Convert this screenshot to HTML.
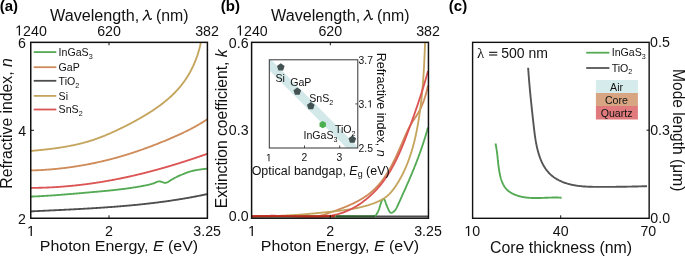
<!DOCTYPE html>
<html><head><meta charset="utf-8"><style>
html,body{margin:0;padding:0;background:#fff;}
body{width:685px;height:256px;overflow:hidden;}
svg{display:block;will-change:transform;}
</style></head><body>
<svg xmlns="http://www.w3.org/2000/svg" width="685" height="256" viewBox="0 0 685 256" style="font-family:'Liberation Sans',sans-serif"><rect width="685" height="256" fill="#fff"/><defs><clipPath id="ca"><rect x="30.75" y="42.35" width="176.65" height="175.9"/></clipPath><clipPath id="cb"><rect x="251.6" y="42.35" width="176.85" height="175.85"/></clipPath><clipPath id="cbi"><rect x="269.3" y="59.8" width="88.5" height="88.2"/></clipPath></defs><g font-weight="bold" font-size="15" fill="#000"><text x="-0.3" y="11">(a)</text><text x="220.8" y="11">(b)</text><text x="448.8" y="11">(c)</text></g><g clip-path="url(#ca)"><path d="M31.02,211.36 L31.61,211.33 L32.20,211.30 L32.79,211.27 L33.38,211.24 L33.97,211.21 L34.56,211.19 L35.15,211.16 L35.74,211.13 L36.33,211.10 L36.92,211.07 L37.52,211.05 L38.11,211.02 L38.70,210.99 L39.29,210.96 L39.88,210.94 L40.47,210.91 L41.06,210.88 L41.65,210.85 L42.24,210.83 L42.83,210.80 L43.42,210.77 L44.01,210.74 L44.61,210.71 L45.20,210.69 L45.79,210.66 L46.38,210.63 L46.97,210.60 L47.56,210.58 L48.15,210.55 L48.74,210.52 L49.33,210.49 L49.92,210.47 L50.52,210.44 L51.11,210.41 L51.70,210.38 L52.29,210.35 L52.88,210.33 L53.47,210.30 L54.06,210.27 L54.65,210.24 L55.25,210.22 L55.84,210.19 L56.43,210.16 L57.02,210.13 L57.61,210.10 L58.20,210.07 L58.79,210.05 L59.38,210.02 L59.98,209.99 L60.57,209.96 L61.16,209.93 L61.75,209.90 L62.34,209.88 L62.93,209.85 L63.52,209.82 L64.12,209.79 L64.71,209.76 L65.30,209.73 L65.89,209.70 L66.48,209.67 L67.07,209.64 L67.66,209.61 L68.26,209.58 L68.85,209.55 L69.44,209.52 L70.03,209.49 L70.62,209.46 L71.21,209.43 L71.80,209.40 L72.40,209.37 L72.99,209.34 L73.58,209.31 L74.17,209.28 L74.76,209.25 L75.35,209.22 L75.95,209.19 L76.54,209.16 L77.13,209.13 L77.72,209.09 L78.31,209.06 L78.90,209.03 L79.49,209.00 L80.09,208.97 L80.68,208.93 L81.27,208.90 L81.86,208.87 L82.45,208.84 L83.04,208.80 L83.63,208.77 L84.23,208.74 L84.82,208.70 L85.41,208.67 L86.00,208.64 L86.59,208.60 L87.18,208.57 L87.77,208.53 L88.36,208.50 L88.96,208.47 L89.55,208.43 L90.14,208.40 L90.73,208.36 L91.32,208.33 L91.91,208.29 L92.50,208.25 L93.09,208.22 L93.69,208.18 L94.28,208.14 L94.87,208.11 L95.46,208.07 L96.05,208.03 L96.64,208.00 L97.23,207.96 L97.82,207.92 L98.41,207.88 L99.01,207.85 L99.60,207.81 L100.19,207.77 L100.78,207.73 L101.37,207.69 L101.96,207.65 L102.55,207.61 L103.14,207.57 L103.73,207.53 L104.32,207.49 L104.92,207.45 L105.51,207.41 L106.10,207.37 L106.69,207.33 L107.28,207.28 L107.87,207.24 L108.46,207.20 L109.05,207.16 L109.64,207.11 L110.23,207.07 L110.82,207.03 L111.41,206.98 L112.00,206.94 L112.59,206.89 L113.18,206.85 L113.77,206.81 L114.36,206.76 L114.96,206.71 L115.55,206.67 L116.14,206.62 L116.73,206.58 L117.32,206.53 L117.91,206.48 L118.50,206.44 L119.09,206.39 L119.68,206.34 L120.27,206.29 L120.86,206.24 L121.45,206.19 L122.04,206.14 L122.63,206.09 L123.22,206.04 L123.81,205.99 L124.40,205.94 L124.99,205.89 L125.58,205.84 L126.17,205.79 L126.76,205.74 L127.35,205.68 L127.93,205.63 L128.52,205.58 L129.11,205.53 L129.70,205.47 L130.29,205.42 L130.88,205.36 L131.47,205.31 L132.06,205.25 L132.65,205.20 L133.24,205.14 L133.83,205.08 L134.42,205.03 L135.01,204.97 L135.60,204.91 L136.18,204.85 L136.77,204.80 L137.36,204.74 L137.95,204.68 L138.54,204.62 L139.13,204.56 L139.72,204.50 L140.31,204.44 L140.89,204.37 L141.48,204.31 L142.07,204.25 L142.66,204.19 L143.25,204.12 L143.84,204.06 L144.43,204.00 L145.01,203.93 L145.60,203.87 L146.19,203.80 L146.78,203.74 L147.37,203.67 L147.95,203.60 L148.54,203.54 L149.13,203.47 L149.72,203.40 L150.31,203.33 L150.89,203.27 L151.48,203.20 L152.07,203.13 L152.66,203.06 L153.24,202.99 L153.83,202.91 L154.42,202.84 L155.01,202.77 L155.59,202.70 L156.18,202.63 L156.77,202.55 L157.35,202.48 L157.94,202.40 L158.53,202.33 L159.11,202.25 L159.70,202.18 L160.29,202.10 L160.87,202.02 L161.46,201.95 L162.05,201.87 L162.63,201.79 L163.22,201.71 L163.81,201.63 L164.39,201.55 L164.98,201.47 L165.57,201.39 L166.15,201.31 L166.74,201.23 L167.32,201.14 L167.91,201.06 L168.50,200.98 L169.08,200.89 L169.67,200.81 L170.25,200.72 L170.84,200.64 L171.42,200.55 L172.01,200.46 L172.59,200.37 L173.18,200.29 L173.76,200.20 L174.35,200.11 L174.93,200.02 L175.52,199.93 L176.10,199.84 L176.69,199.75 L177.27,199.65 L177.86,199.56 L178.44,199.47 L179.03,199.37 L179.61,199.28 L180.20,199.19 L180.78,199.09 L181.36,198.99 L181.95,198.90 L182.53,198.80 L183.12,198.70 L183.70,198.60 L184.28,198.50 L184.87,198.40 L185.45,198.30 L186.03,198.20 L186.62,198.10 L187.20,198.00 L187.78,197.90 L188.37,197.79 L188.95,197.69 L189.53,197.58 L190.12,197.48 L190.70,197.37 L191.28,197.27 L191.86,197.16 L192.45,197.05 L193.03,196.94 L193.61,196.83 L194.19,196.72 L194.78,196.61 L195.36,196.50 L195.94,196.39 L196.52,196.28 L197.10,196.16 L197.69,196.05 L198.27,195.94 L198.85,195.82 L199.43,195.70 L200.01,195.59 L200.59,195.47 L201.17,195.35 L201.76,195.23 L202.34,195.12 L202.92,195.00 L203.50,194.88 L204.08,194.75 L204.66,194.63 L205.24,194.51 L205.82,194.39 L206.40,194.26 L206.98,194.14" fill="none" stroke="#4d4d4d" stroke-width="1.85" stroke-linejoin="round" stroke-linecap="butt" /><path d="M30.99,196.59 L31.60,196.57 L32.21,196.54 L32.81,196.52 L33.42,196.49 L34.02,196.47 L34.63,196.44 L35.23,196.41 L35.84,196.38 L36.44,196.36 L37.05,196.33 L37.65,196.30 L38.26,196.27 L38.86,196.24 L39.47,196.21 L40.07,196.17 L40.68,196.14 L41.28,196.11 L41.89,196.08 L42.49,196.04 L43.10,196.01 L43.70,195.97 L44.31,195.94 L44.91,195.90 L45.51,195.86 L46.12,195.83 L46.72,195.79 L47.33,195.75 L47.93,195.71 L48.54,195.68 L49.14,195.64 L49.74,195.60 L50.35,195.56 L50.95,195.52 L51.55,195.47 L52.16,195.43 L52.76,195.39 L53.37,195.35 L53.97,195.31 L54.57,195.26 L55.18,195.22 L55.78,195.18 L56.38,195.13 L56.99,195.09 L57.59,195.04 L58.19,195.00 L58.80,194.95 L59.40,194.91 L60.00,194.86 L60.61,194.81 L61.21,194.77 L61.81,194.72 L62.42,194.67 L63.02,194.63 L63.62,194.58 L64.23,194.53 L64.83,194.48 L65.43,194.43 L66.04,194.38 L66.64,194.34 L67.24,194.29 L67.85,194.24 L68.45,194.19 L69.05,194.14 L69.66,194.09 L70.26,194.04 L70.86,193.99 L71.47,193.93 L72.07,193.88 L72.67,193.83 L73.27,193.78 L73.88,193.73 L74.48,193.68 L75.08,193.63 L75.69,193.57 L76.29,193.52 L76.89,193.47 L77.50,193.42 L78.10,193.37 L78.70,193.31 L79.30,193.26 L79.91,193.21 L80.51,193.16 L81.11,193.10 L81.72,193.05 L82.32,193.00 L82.92,192.94 L83.53,192.89 L84.13,192.84 L84.73,192.79 L85.34,192.73 L85.94,192.68 L86.54,192.63 L87.14,192.57 L87.75,192.52 L88.35,192.47 L88.95,192.42 L89.56,192.36 L90.16,192.31 L90.76,192.26 L91.37,192.20 L91.97,192.15 L92.57,192.10 L93.18,192.04 L93.78,191.99 L94.38,191.94 L94.99,191.88 L95.59,191.83 L96.19,191.78 L96.80,191.72 L97.40,191.67 L98.00,191.61 L98.61,191.56 L99.21,191.50 L99.81,191.45 L100.42,191.39 L101.02,191.34 L101.62,191.28 L102.23,191.23 L102.83,191.17 L103.43,191.11 L104.04,191.06 L104.64,191.00 L105.24,190.94 L105.84,190.88 L106.45,190.82 L107.05,190.77 L107.65,190.71 L108.25,190.65 L108.86,190.59 L109.46,190.52 L110.06,190.46 L110.66,190.40 L111.27,190.34 L111.87,190.28 L112.47,190.21 L113.07,190.15 L113.68,190.08 L114.28,190.02 L114.88,189.95 L115.48,189.89 L116.08,189.82 L116.68,189.75 L117.29,189.68 L117.89,189.61 L118.49,189.54 L119.09,189.47 L119.69,189.40 L120.29,189.33 L120.89,189.26 L121.49,189.18 L122.09,189.11 L122.69,189.03 L123.29,188.96 L123.89,188.88 L124.49,188.80 L125.09,188.72 L125.69,188.64 L126.29,188.56 L126.89,188.48 L127.49,188.40 L128.09,188.32 L128.69,188.23 L129.29,188.15 L129.89,188.06 L130.49,187.97 L131.09,187.89 L131.68,187.80 L132.28,187.71 L132.88,187.61 L133.48,187.52 L134.08,187.43 L134.67,187.33 L135.27,187.24 L135.87,187.14 L136.47,187.04 L137.06,186.94 L137.66,186.84 L138.25,186.74 L138.85,186.64 L139.45,186.54 L140.04,186.43 L140.64,186.32 L141.23,186.22 L141.83,186.11 L142.42,186.00 L143.02,185.88 L143.61,185.77 L144.21,185.66 L144.80,185.54 L145.40,185.42 L145.99,185.30 L146.58,185.18 L147.18,185.06 L147.77,184.93 L148.36,184.79 L148.95,184.66 L149.54,184.51 L150.12,184.36 L150.71,184.21 L151.29,184.04 L151.87,183.87 L152.45,183.69 L153.03,183.51 L153.60,183.31 L154.17,183.10 L154.74,182.88 L155.31,182.66 L155.87,182.42 L156.43,182.17 L156.99,181.94 L157.55,181.73 L158.11,181.56 L158.67,181.43 L159.23,181.37 L159.79,181.38 L160.36,181.47 L160.93,181.62 L161.50,181.81 L162.07,182.02 L162.64,182.24 L163.20,182.44 L163.77,182.62 L164.33,182.75 L164.88,182.82 L165.43,182.81 L165.98,182.73 L166.52,182.59 L167.06,182.39 L167.59,182.15 L168.13,181.87 L168.66,181.56 L169.19,181.23 L169.72,180.89 L170.25,180.54 L170.78,180.21 L171.31,179.88 L171.84,179.55 L172.37,179.24 L172.91,178.94 L173.44,178.64 L173.98,178.35 L174.52,178.06 L175.06,177.78 L175.60,177.51 L176.14,177.24 L176.68,176.97 L177.23,176.71 L177.77,176.46 L178.32,176.21 L178.87,175.96 L179.42,175.71 L179.97,175.46 L180.52,175.22 L181.07,174.98 L181.62,174.73 L182.18,174.49 L182.73,174.25 L183.29,174.02 L183.85,173.78 L184.41,173.55 L184.97,173.33 L185.54,173.10 L186.10,172.88 L186.67,172.67 L187.24,172.46 L187.81,172.26 L188.38,172.07 L188.96,171.88 L189.53,171.70 L190.11,171.53 L190.69,171.36 L191.28,171.20 L191.86,171.05 L192.45,170.91 L193.04,170.77 L193.63,170.64 L194.22,170.51 L194.81,170.39 L195.41,170.28 L196.00,170.17 L196.60,170.06 L197.20,169.96 L197.79,169.86 L198.39,169.77 L198.99,169.68 L199.59,169.59 L200.19,169.51 L200.80,169.43 L201.40,169.35 L202.00,169.27 L202.60,169.19 L203.20,169.12 L203.80,169.04 L204.40,168.97 L205.00,168.89 L205.60,168.82 L206.20,168.75 L206.80,168.67 L207.40,168.59" fill="none" stroke="#55ab55" stroke-width="1.85" stroke-linejoin="round" stroke-linecap="butt" /><path d="M30.90,187.89 L31.51,187.89 L32.12,187.89 L32.73,187.88 L33.34,187.88 L33.94,187.87 L34.55,187.86 L35.16,187.86 L35.76,187.85 L36.37,187.84 L36.98,187.83 L37.59,187.82 L38.19,187.81 L38.80,187.79 L39.41,187.78 L40.01,187.77 L40.62,187.75 L41.23,187.73 L41.83,187.72 L42.44,187.70 L43.04,187.68 L43.65,187.66 L44.26,187.64 L44.86,187.62 L45.47,187.60 L46.07,187.57 L46.68,187.55 L47.28,187.52 L47.89,187.50 L48.49,187.47 L49.10,187.44 L49.70,187.42 L50.31,187.39 L50.91,187.36 L51.52,187.33 L52.12,187.30 L52.72,187.26 L53.33,187.23 L53.93,187.20 L54.54,187.16 L55.14,187.12 L55.74,187.09 L56.35,187.05 L56.95,187.01 L57.56,186.97 L58.16,186.93 L58.76,186.89 L59.36,186.85 L59.97,186.81 L60.57,186.77 L61.17,186.72 L61.78,186.68 L62.38,186.63 L62.98,186.58 L63.58,186.54 L64.19,186.49 L64.79,186.44 L65.39,186.39 L65.99,186.34 L66.59,186.29 L67.19,186.24 L67.80,186.18 L68.40,186.13 L69.00,186.07 L69.60,186.02 L70.20,185.96 L70.80,185.90 L71.40,185.85 L72.00,185.79 L72.60,185.73 L73.20,185.67 L73.80,185.61 L74.40,185.55 L75.01,185.48 L75.61,185.42 L76.20,185.36 L76.80,185.29 L77.40,185.22 L78.00,185.16 L78.60,185.09 L79.20,185.02 L79.80,184.95 L80.40,184.88 L81.00,184.81 L81.60,184.74 L82.20,184.67 L82.80,184.60 L83.39,184.52 L83.99,184.45 L84.59,184.37 L85.19,184.30 L85.79,184.22 L86.38,184.14 L86.98,184.06 L87.58,183.98 L88.18,183.91 L88.77,183.82 L89.37,183.74 L89.97,183.66 L90.57,183.58 L91.16,183.49 L91.76,183.41 L92.36,183.32 L92.95,183.24 L93.55,183.15 L94.15,183.06 L94.74,182.98 L95.34,182.89 L95.93,182.80 L96.53,182.71 L97.12,182.62 L97.72,182.52 L98.32,182.43 L98.91,182.34 L99.51,182.24 L100.10,182.15 L100.70,182.05 L101.29,181.96 L101.89,181.86 L102.48,181.76 L103.07,181.66 L103.67,181.56 L104.26,181.46 L104.86,181.36 L105.45,181.26 L106.04,181.16 L106.64,181.06 L107.23,180.95 L107.82,180.85 L108.42,180.74 L109.01,180.64 L109.60,180.53 L110.20,180.42 L110.79,180.31 L111.38,180.20 L111.97,180.10 L112.57,179.98 L113.16,179.87 L113.75,179.76 L114.34,179.65 L114.93,179.54 L115.53,179.42 L116.12,179.31 L116.71,179.19 L117.30,179.08 L117.89,178.96 L118.48,178.84 L119.07,178.72 L119.66,178.61 L120.25,178.49 L120.85,178.37 L121.44,178.25 L122.03,178.12 L122.62,178.00 L123.21,177.88 L123.80,177.76 L124.38,177.63 L124.97,177.51 L125.56,177.38 L126.15,177.25 L126.74,177.13 L127.33,177.00 L127.92,176.87 L128.51,176.74 L129.10,176.61 L129.69,176.48 L130.27,176.35 L130.86,176.22 L131.45,176.09 L132.04,175.95 L132.63,175.82 L133.21,175.68 L133.80,175.55 L134.39,175.41 L134.97,175.28 L135.56,175.14 L136.15,175.00 L136.74,174.86 L137.32,174.72 L137.91,174.58 L138.50,174.44 L139.08,174.30 L139.67,174.16 L140.25,174.02 L140.84,173.88 L141.42,173.73 L142.01,173.59 L142.60,173.44 L143.18,173.30 L143.77,173.15 L144.35,173.01 L144.94,172.86 L145.52,172.71 L146.11,172.56 L146.69,172.41 L147.27,172.26 L147.86,172.11 L148.44,171.96 L149.03,171.81 L149.61,171.66 L150.19,171.50 L150.78,171.35 L151.36,171.20 L151.94,171.04 L152.53,170.89 L153.11,170.73 L153.69,170.58 L154.28,170.42 L154.86,170.26 L155.44,170.10 L156.02,169.95 L156.60,169.79 L157.19,169.63 L157.77,169.47 L158.35,169.31 L158.93,169.14 L159.51,168.98 L160.09,168.82 L160.68,168.66 L161.26,168.49 L161.84,168.33 L162.42,168.16 L163.00,168.00 L163.58,167.83 L164.16,167.67 L164.74,167.50 L165.32,167.33 L165.90,167.16 L166.48,167.00 L167.06,166.83 L167.64,166.66 L168.22,166.49 L168.80,166.32 L169.38,166.15 L169.96,165.97 L170.54,165.80 L171.11,165.63 L171.69,165.46 L172.27,165.28 L172.85,165.11 L173.43,164.93 L174.01,164.76 L174.58,164.58 L175.16,164.41 L175.74,164.23 L176.32,164.05 L176.89,163.87 L177.47,163.70 L178.05,163.52 L178.63,163.34 L179.20,163.16 L179.78,162.98 L180.36,162.80 L180.93,162.62 L181.51,162.44 L182.08,162.25 L182.66,162.07 L183.24,161.89 L183.81,161.70 L184.39,161.52 L184.96,161.34 L185.54,161.15 L186.11,160.97 L186.69,160.78 L187.26,160.59 L187.84,160.41 L188.41,160.22 L188.99,160.03 L189.56,159.84 L190.14,159.66 L190.71,159.47 L191.28,159.28 L191.86,159.09 L192.43,158.90 L193.00,158.71 L193.58,158.52 L194.15,158.32 L194.72,158.13 L195.30,157.94 L195.87,157.75 L196.44,157.56 L197.02,157.36 L197.59,157.17 L198.16,156.97 L198.73,156.78 L199.30,156.58 L199.88,156.39 L200.45,156.19 L201.02,156.00 L201.59,155.80 L202.16,155.60 L202.73,155.40 L203.31,155.21 L203.88,155.01 L204.45,154.81 L205.02,154.61 L205.59,154.41 L206.16,154.21 L206.73,154.01 L207.30,153.81" fill="none" stroke="#dc5555" stroke-width="1.85" stroke-linejoin="round" stroke-linecap="butt" /><path d="M30.96,170.45 L31.58,170.43 L32.20,170.41 L32.83,170.39 L33.45,170.37 L34.07,170.35 L34.70,170.33 L35.32,170.31 L35.94,170.28 L36.56,170.26 L37.19,170.23 L37.81,170.20 L38.43,170.17 L39.05,170.14 L39.68,170.11 L40.30,170.08 L40.92,170.05 L41.54,170.01 L42.16,169.98 L42.78,169.94 L43.41,169.90 L44.03,169.86 L44.65,169.82 L45.27,169.78 L45.89,169.74 L46.51,169.70 L47.13,169.65 L47.75,169.61 L48.37,169.56 L48.99,169.51 L49.61,169.47 L50.23,169.42 L50.85,169.37 L51.47,169.31 L52.09,169.26 L52.71,169.21 L53.33,169.15 L53.95,169.10 L54.57,169.04 L55.19,168.98 L55.81,168.92 L56.43,168.86 L57.05,168.80 L57.67,168.74 L58.28,168.67 L58.90,168.61 L59.52,168.54 L60.14,168.47 L60.76,168.41 L61.37,168.34 L61.99,168.27 L62.61,168.19 L63.23,168.12 L63.84,168.05 L64.46,167.97 L65.08,167.90 L65.69,167.82 L66.31,167.74 L66.93,167.66 L67.54,167.58 L68.16,167.50 L68.77,167.42 L69.39,167.34 L70.00,167.25 L70.62,167.17 L71.23,167.08 L71.85,166.99 L72.46,166.91 L73.08,166.82 L73.69,166.72 L74.31,166.63 L74.92,166.54 L75.54,166.45 L76.15,166.35 L76.76,166.26 L77.38,166.16 L77.99,166.06 L78.60,165.96 L79.21,165.86 L79.83,165.76 L80.44,165.66 L81.05,165.55 L81.66,165.45 L82.28,165.34 L82.89,165.24 L83.50,165.13 L84.11,165.02 L84.72,164.91 L85.33,164.80 L85.94,164.69 L86.55,164.57 L87.16,164.46 L87.77,164.34 L88.38,164.23 L88.99,164.11 L89.60,163.99 L90.21,163.87 L90.82,163.75 L91.43,163.63 L92.04,163.51 L92.64,163.38 L93.25,163.26 L93.86,163.13 L94.47,163.01 L95.08,162.88 L95.68,162.75 L96.29,162.62 L96.90,162.49 L97.50,162.36 L98.11,162.22 L98.71,162.09 L99.32,161.95 L99.93,161.82 L100.53,161.68 L101.14,161.54 L101.74,161.40 L102.35,161.26 L102.95,161.12 L103.55,160.98 L104.16,160.83 L104.76,160.69 L105.36,160.54 L105.97,160.40 L106.57,160.25 L107.17,160.10 L107.78,159.95 L108.38,159.80 L108.98,159.65 L109.58,159.49 L110.18,159.34 L110.78,159.18 L111.38,159.03 L111.99,158.87 L112.59,158.71 L113.19,158.55 L113.79,158.39 L114.38,158.23 L114.98,158.07 L115.58,157.91 L116.18,157.74 L116.78,157.58 L117.38,157.41 L117.98,157.24 L118.57,157.07 L119.17,156.90 L119.77,156.73 L120.37,156.56 L120.96,156.39 L121.56,156.22 L122.15,156.04 L122.75,155.86 L123.34,155.69 L123.94,155.51 L124.53,155.33 L125.13,155.15 L125.72,154.97 L126.32,154.79 L126.91,154.61 L127.50,154.42 L128.10,154.24 L128.69,154.05 L129.28,153.86 L129.87,153.68 L130.47,153.49 L131.06,153.30 L131.65,153.11 L132.24,152.91 L132.83,152.72 L133.42,152.53 L134.01,152.33 L134.60,152.14 L135.19,151.94 L135.78,151.74 L136.37,151.54 L136.96,151.34 L137.54,151.14 L138.13,150.94 L138.72,150.74 L139.31,150.53 L139.89,150.33 L140.48,150.12 L141.07,149.92 L141.65,149.71 L142.24,149.50 L142.83,149.29 L143.41,149.08 L144.00,148.87 L144.58,148.66 L145.16,148.45 L145.75,148.24 L146.33,148.02 L146.92,147.81 L147.50,147.59 L148.08,147.38 L148.67,147.16 L149.25,146.94 L149.83,146.72 L150.41,146.51 L150.99,146.29 L151.58,146.07 L152.16,145.84 L152.74,145.62 L153.32,145.40 L153.90,145.18 L154.48,144.95 L155.06,144.73 L155.64,144.50 L156.22,144.28 L156.80,144.05 L157.38,143.82 L157.95,143.59 L158.53,143.37 L159.11,143.14 L159.69,142.91 L160.27,142.68 L160.84,142.44 L161.42,142.21 L162.00,141.98 L162.57,141.75 L163.15,141.51 L163.72,141.28 L164.30,141.04 L164.87,140.80 L165.45,140.57 L166.02,140.33 L166.59,140.09 L167.17,139.85 L167.74,139.61 L168.31,139.37 L168.88,139.13 L169.46,138.88 L170.03,138.64 L170.60,138.40 L171.17,138.15 L171.74,137.91 L172.31,137.66 L172.88,137.41 L173.45,137.16 L174.01,136.91 L174.58,136.66 L175.15,136.41 L175.72,136.16 L176.28,135.91 L176.85,135.66 L177.41,135.40 L177.98,135.15 L178.54,134.89 L179.11,134.63 L179.67,134.37 L180.23,134.12 L180.79,133.85 L181.35,133.59 L181.91,133.33 L182.47,133.07 L183.03,132.80 L183.59,132.53 L184.15,132.27 L184.71,132.00 L185.26,131.73 L185.82,131.46 L186.37,131.18 L186.93,130.91 L187.48,130.63 L188.03,130.36 L188.58,130.08 L189.13,129.80 L189.68,129.52 L190.23,129.24 L190.78,128.95 L191.33,128.67 L191.87,128.38 L192.42,128.09 L192.96,127.80 L193.51,127.51 L194.05,127.21 L194.59,126.92 L195.13,126.62 L195.67,126.32 L196.21,126.02 L196.74,125.72 L197.28,125.41 L197.81,125.11 L198.35,124.80 L198.88,124.49 L199.41,124.18 L199.94,123.86 L200.47,123.55 L201.00,123.23 L201.53,122.91 L202.05,122.59 L202.58,122.26 L203.10,121.94 L203.62,121.61 L204.14,121.28 L204.66,120.95 L205.18,120.61 L205.70,120.28 L206.21,119.94 L206.73,119.60 L207.24,119.26" fill="none" stroke="#cf8c5a" stroke-width="1.85" stroke-linejoin="round" stroke-linecap="butt" /><path d="M30.99,150.92 L31.71,150.86 L32.43,150.79 L33.14,150.73 L33.86,150.66 L34.58,150.59 L35.30,150.53 L36.02,150.46 L36.74,150.39 L37.45,150.32 L38.17,150.25 L38.89,150.18 L39.61,150.11 L40.33,150.04 L41.05,149.96 L41.77,149.89 L42.49,149.81 L43.21,149.74 L43.93,149.66 L44.65,149.58 L45.37,149.50 L46.09,149.42 L46.81,149.34 L47.53,149.26 L48.25,149.17 L48.97,149.09 L49.69,149.00 L50.41,148.91 L51.13,148.83 L51.84,148.73 L52.56,148.64 L53.28,148.55 L54.00,148.46 L54.72,148.36 L55.44,148.26 L56.16,148.16 L56.87,148.06 L57.59,147.96 L58.31,147.85 L59.02,147.75 L59.74,147.64 L60.46,147.53 L61.17,147.42 L61.89,147.31 L62.60,147.19 L63.32,147.08 L64.03,146.96 L64.75,146.84 L65.46,146.72 L66.17,146.59 L66.89,146.46 L67.60,146.34 L68.31,146.21 L69.02,146.07 L69.73,145.94 L70.44,145.80 L71.15,145.66 L71.86,145.52 L72.57,145.38 L73.27,145.23 L73.98,145.08 L74.69,144.93 L75.39,144.78 L76.10,144.62 L76.80,144.46 L77.50,144.30 L78.21,144.14 L78.91,143.97 L79.61,143.80 L80.31,143.63 L81.01,143.46 L81.71,143.28 L82.41,143.10 L83.10,142.92 L83.80,142.73 L84.49,142.55 L85.19,142.35 L85.88,142.16 L86.57,141.96 L87.26,141.76 L87.96,141.56 L88.64,141.36 L89.33,141.15 L90.02,140.93 L90.71,140.72 L91.39,140.50 L92.08,140.28 L92.76,140.06 L93.44,139.83 L94.12,139.60 L94.80,139.36 L95.48,139.13 L96.16,138.89 L96.84,138.65 L97.51,138.40 L98.19,138.15 L98.86,137.90 L99.54,137.65 L100.21,137.40 L100.88,137.14 L101.55,136.88 L102.22,136.62 L102.89,136.35 L103.56,136.08 L104.22,135.81 L104.89,135.54 L105.56,135.27 L106.22,134.99 L106.89,134.71 L107.55,134.43 L108.21,134.15 L108.87,133.86 L109.53,133.58 L110.19,133.29 L110.85,133.00 L111.51,132.70 L112.17,132.41 L112.82,132.11 L113.48,131.82 L114.14,131.52 L114.79,131.22 L115.44,130.92 L116.10,130.61 L116.75,130.31 L117.40,130.00 L118.05,129.69 L118.71,129.38 L119.36,129.07 L120.01,128.76 L120.65,128.45 L121.30,128.13 L121.95,127.81 L122.60,127.50 L123.24,127.18 L123.89,126.86 L124.53,126.53 L125.18,126.21 L125.82,125.89 L126.47,125.56 L127.11,125.23 L127.75,124.90 L128.39,124.57 L129.03,124.24 L129.67,123.90 L130.31,123.57 L130.95,123.23 L131.59,122.89 L132.23,122.55 L132.87,122.21 L133.50,121.86 L134.14,121.52 L134.78,121.17 L135.41,120.83 L136.05,120.48 L136.68,120.12 L137.31,119.77 L137.95,119.42 L138.58,119.06 L139.21,118.70 L139.84,118.34 L140.47,117.98 L141.10,117.62 L141.73,117.26 L142.36,116.89 L142.99,116.52 L143.61,116.15 L144.24,115.78 L144.86,115.41 L145.49,115.03 L146.11,114.66 L146.73,114.28 L147.35,113.90 L147.97,113.51 L148.58,113.13 L149.20,112.74 L149.82,112.35 L150.43,111.96 L151.04,111.57 L151.65,111.17 L152.26,110.77 L152.86,110.37 L153.47,109.97 L154.07,109.57 L154.67,109.16 L155.27,108.75 L155.87,108.34 L156.47,107.93 L157.06,107.51 L157.65,107.09 L158.24,106.67 L158.83,106.25 L159.41,105.82 L160.00,105.39 L160.58,104.96 L161.16,104.53 L161.73,104.09 L162.31,103.65 L162.88,103.21 L163.44,102.76 L164.01,102.32 L164.57,101.87 L165.13,101.41 L165.69,100.96 L166.25,100.50 L166.80,100.04 L167.35,99.57 L167.89,99.10 L168.44,98.63 L168.98,98.16 L169.51,97.68 L170.05,97.20 L170.58,96.72 L171.11,96.24 L171.63,95.75 L172.15,95.25 L172.67,94.76 L173.18,94.26 L173.69,93.76 L174.20,93.25 L174.70,92.74 L175.20,92.23 L175.70,91.72 L176.19,91.20 L176.68,90.68 L177.16,90.15 L177.64,89.62 L178.12,89.09 L178.59,88.55 L179.06,88.01 L179.53,87.47 L179.99,86.92 L180.44,86.37 L180.90,85.82 L181.34,85.26 L181.79,84.70 L182.23,84.13 L182.66,83.56 L183.09,82.99 L183.52,82.41 L183.94,81.83 L184.36,81.25 L184.77,80.66 L185.18,80.07 L185.58,79.48 L185.98,78.88 L186.38,78.28 L186.77,77.68 L187.15,77.07 L187.53,76.46 L187.91,75.84 L188.28,75.23 L188.65,74.61 L189.01,73.98 L189.37,73.36 L189.73,72.73 L190.08,72.10 L190.42,71.46 L190.76,70.83 L191.10,70.19 L191.43,69.54 L191.76,68.90 L192.08,68.25 L192.40,67.60 L192.72,66.95 L193.02,66.29 L193.33,65.63 L193.63,64.97 L193.92,64.31 L194.21,63.64 L194.50,62.98 L194.78,62.31 L195.06,61.64 L195.33,60.96 L195.60,60.29 L195.86,59.61 L196.12,58.93 L196.37,58.25 L196.62,57.57 L196.87,56.88 L197.11,56.19 L197.34,55.50 L197.57,54.81 L197.80,54.12 L198.02,53.43 L198.24,52.73 L198.45,52.04 L198.66,51.34 L198.86,50.64 L199.06,49.94 L199.25,49.24 L199.44,48.53 L199.62,47.83 L199.80,47.12 L199.97,46.41 L200.14,45.71 L200.31,45.00 L200.47,44.29 L200.62,43.58 L200.77,42.86 L200.92,42.15" fill="none" stroke="#c5a55e" stroke-width="1.85" stroke-linejoin="round" stroke-linecap="butt" /></g><rect x="30.75" y="42.35" width="176.65" height="175.9" fill="none" stroke="#111" stroke-width="1.5"/><g stroke="#111" stroke-width="1"><line x1="109" y1="218.3" x2="109" y2="215.3"/><line x1="109" y1="42.3" x2="109" y2="45.3"/><line x1="31" y1="130.3" x2="34" y2="130.3"/></g><line x1="33.7" y1="52.1" x2="56.3" y2="52.1" stroke="#55ab55" stroke-width="1.8"/><text x="58.6" y="56.0" font-size="10.6" fill="#111">InGaS<tspan font-size="7.2" dy="2.8">3</tspan></text><line x1="33.7" y1="67.2" x2="56.3" y2="67.2" stroke="#cf8c5a" stroke-width="1.8"/><text x="58.6" y="71.10000000000001" font-size="10.6" fill="#111">GaP</text><line x1="33.7" y1="80.8" x2="56.3" y2="80.8" stroke="#4d4d4d" stroke-width="1.8"/><text x="58.6" y="84.7" font-size="10.6" fill="#111">TiO<tspan font-size="7.2" dy="2.8">2</tspan></text><line x1="33.7" y1="95.9" x2="56.3" y2="95.9" stroke="#c5a55e" stroke-width="1.8"/><text x="58.6" y="99.80000000000001" font-size="10.6" fill="#111">Si</text><line x1="33.7" y1="109.5" x2="56.3" y2="109.5" stroke="#dc5555" stroke-width="1.8"/><text x="58.6" y="113.4" font-size="10.6" fill="#111">SnS<tspan font-size="7.2" dy="2.8">2</tspan></text><g transform="translate(31,0) scale(0.98,1) translate(-31,0)"><text x="26.97" y="235.9" font-size="14.5" fill="#111"> </text><g fill="#111"><polygon points="30.61,235.90 30.61,227.14 28.36,228.75 28.36,227.55 30.72,225.92 31.90,225.92 31.90,235.90"/></g></g><g transform="translate(109,0) scale(0.98,1) translate(-109,0)"><text x="104.97" y="235.9" font-size="14.5" fill="#111">2</text></g><g transform="translate(207.2,0) scale(0.98,1) translate(-207.2,0)"><text x="193.09" y="235.9" font-size="14.5" fill="#111">3.25</text></g><g transform="translate(31,0) scale(0.98,1) translate(-31,0)"><text x="14.87" y="35.6" font-size="14.5" fill="#111"> 240</text><g fill="#111"><polygon points="18.52,35.60 18.52,26.84 16.27,28.45 16.27,27.25 18.62,25.62 19.80,25.62 19.80,35.60"/></g></g><g transform="translate(109,0) scale(0.98,1) translate(-109,0)"><text x="96.90" y="35.6" font-size="14.5" fill="#111">620</text></g><g transform="translate(207,0) scale(0.98,1) translate(-207,0)"><text x="194.90" y="35.6" font-size="14.5" fill="#111">382</text></g><g transform="translate(25.9,0) scale(0.98,1) translate(-25.9,0)"><text x="17.84" y="48.2" font-size="14.5" fill="#111">6</text></g><g transform="translate(26.1,0) scale(0.98,1) translate(-26.1,0)"><text x="18.04" y="136.2" font-size="14.5" fill="#111">4</text></g><g transform="translate(25.9,0) scale(0.98,1) translate(-25.9,0)"><text x="17.84" y="224.1" font-size="14.5" fill="#111">2</text></g><text x="119" y="251" font-size="15.5" text-anchor="middle" fill="#111" textLength="158.4" lengthAdjust="spacingAndGlyphs">Photon Energy, <tspan font-style="italic">E</tspan> (eV)</text><text x="50.00" y="20.6" font-size="15.8" fill="#111" textLength="89.3" lengthAdjust="spacingAndGlyphs">Wavelength,</text><path d="M145.60,10.90 C146.20,10.10 147.00,10.20 147.40,11.20 C148.00,13.00 148.60,16.00 149.30,18.30 C149.70,19.50 150.50,20.00 151.30,18.60 M147.80,13.8 L143.10,20.0" fill="none" stroke="#111" stroke-width="1.25" stroke-linecap="round" stroke-linejoin="round"/><text x="155.90" y="20.6" font-size="15.8" fill="#111" textLength="32.6" lengthAdjust="spacingAndGlyphs">(nm)</text><text transform="translate(12.2,123.5) rotate(-90)" font-size="16" text-anchor="middle" fill="#111" textLength="130.4" lengthAdjust="spacingAndGlyphs">Refractive index, <tspan font-style="italic">n</tspan></text><g clip-path="url(#cb)"><path d="M252.00,216.40 L428.00,216.40" fill="none" stroke="#4d4d4d" stroke-width="1.85" stroke-linejoin="round" stroke-linecap="butt" /><path d="M252.00,216.30 L252.85,216.30 L253.69,216.30 L254.54,216.30 L255.39,216.30 L256.23,216.30 L257.08,216.30 L257.93,216.30 L258.77,216.30 L259.62,216.30 L260.47,216.30 L261.31,216.30 L262.16,216.30 L263.00,216.30 L263.85,216.30 L264.70,216.30 L265.54,216.30 L266.39,216.30 L267.24,216.30 L268.08,216.30 L268.93,216.30 L269.78,216.30 L270.62,216.30 L271.47,216.30 L272.32,216.30 L273.16,216.30 L274.01,216.30 L274.86,216.30 L275.70,216.30 L276.55,216.30 L277.40,216.30 L278.24,216.30 L279.09,216.30 L279.94,216.30 L280.78,216.30 L281.63,216.30 L282.48,216.30 L283.32,216.30 L284.17,216.30 L285.02,216.30 L285.86,216.30 L286.71,216.29 L287.56,216.29 L288.40,216.29 L289.25,216.29 L290.10,216.29 L290.94,216.29 L291.79,216.29 L292.63,216.29 L293.48,216.29 L294.33,216.29 L295.17,216.30 L296.02,216.30 L296.87,216.30 L297.71,216.30 L298.56,216.30 L299.41,216.30 L300.25,216.30 L301.10,216.30 L301.95,216.30 L302.79,216.30 L303.64,216.30 L304.49,216.30 L305.33,216.30 L306.18,216.30 L307.03,216.30 L307.87,216.30 L308.72,216.30 L309.57,216.30 L310.41,216.31 L311.26,216.31 L312.10,216.31 L312.95,216.31 L313.80,216.31 L314.64,216.31 L315.49,216.31 L316.34,216.31 L317.18,216.31 L318.03,216.31 L318.88,216.31 L319.72,216.31 L320.57,216.31 L321.42,216.31 L322.26,216.31 L323.11,216.31 L323.96,216.31 L324.80,216.31 L325.65,216.31 L326.50,216.31 L327.34,216.31 L328.19,216.31 L329.04,216.31 L329.88,216.30 L330.73,216.30 L331.58,216.30 L332.42,216.30 L333.27,216.30 L334.12,216.30 L334.96,216.30 L335.81,216.29 L336.66,216.29 L337.50,216.29 L338.35,216.29 L339.20,216.29 L340.04,216.29 L340.89,216.28 L341.74,216.28 L342.58,216.28 L343.43,216.28 L344.28,216.28 L345.12,216.28 L345.97,216.28 L346.81,216.28 L347.66,216.28 L348.51,216.28 L349.35,216.28 L350.20,216.28 L351.05,216.28 L351.89,216.29 L352.74,216.29 L353.59,216.29 L354.43,216.30 L355.28,216.30 L356.12,216.31 L356.97,216.31 L357.82,216.32 L358.66,216.33 L359.51,216.33 L360.36,216.34 L361.20,216.34 L362.05,216.35 L362.89,216.35 L363.74,216.35 L364.59,216.35 L365.44,216.35 L366.28,216.34 L367.13,216.33 L367.98,216.32 L368.83,216.31 L369.67,216.29 L370.52,216.27 L371.37,216.24 L372.22,216.21 L373.07,216.18 L373.92,216.13 L374.74,216.02 L375.46,215.69 L376.05,215.10 L376.55,214.34 L376.99,213.56 L377.40,212.78 L377.78,212.03 L378.14,211.28 L378.47,210.52 L378.78,209.77 L379.07,209.00 L379.35,208.21 L379.60,207.40 L379.85,206.56 L380.10,205.71 L380.35,204.85 L380.60,204.00 L380.87,203.15 L381.16,202.33 L381.48,201.53 L381.83,200.77 L382.22,200.06 L382.66,199.41 L383.15,198.96 L383.70,198.97 L384.23,199.38 L384.69,200.04 L385.07,200.86 L385.40,201.76 L385.70,202.69 L385.98,203.59 L386.27,204.42 L386.56,205.20 L386.86,205.94 L387.17,206.67 L387.49,207.41 L387.82,208.17 L388.17,208.97 L388.54,209.82 L388.94,210.69 L389.39,211.49 L389.90,212.17 L390.50,212.63 L391.19,212.80 L391.98,212.65 L392.77,212.29 L393.48,211.84 L394.13,211.31 L394.71,210.72 L395.24,210.06 L395.72,209.36 L396.17,208.62 L396.58,207.85 L396.97,207.07 L397.35,206.29 L397.72,205.51 L398.08,204.74 L398.44,203.96 L398.79,203.19 L399.13,202.42 L399.48,201.65 L399.82,200.88 L400.16,200.12 L400.50,199.35 L400.84,198.58 L401.18,197.81 L401.53,197.04 L401.87,196.27 L402.22,195.50 L402.56,194.73 L402.91,193.96 L403.26,193.19 L403.61,192.42 L403.95,191.64 L404.30,190.87 L404.65,190.10 L405.00,189.33 L405.34,188.55 L405.69,187.78 L406.03,187.01 L406.38,186.23 L406.72,185.46 L407.06,184.68 L407.40,183.91 L407.74,183.13 L408.08,182.35 L408.42,181.58 L408.76,180.80 L409.10,180.02 L409.43,179.24 L409.76,178.47 L410.10,177.69 L410.43,176.91 L410.76,176.13 L411.09,175.35 L411.42,174.57 L411.75,173.79 L412.07,173.00 L412.40,172.22 L412.72,171.44 L413.04,170.66 L413.36,169.87 L413.68,169.09 L414.00,168.31 L414.32,167.52 L414.63,166.74 L414.95,165.95 L415.26,165.16 L415.57,164.38 L415.88,163.59 L416.19,162.80 L416.49,162.01 L416.80,161.22 L417.10,160.43 L417.40,159.64 L417.71,158.85 L418.00,158.06 L418.30,157.27 L418.60,156.47 L418.89,155.68 L419.18,154.89 L419.47,154.09 L419.76,153.30 L420.05,152.50 L420.33,151.70 L420.62,150.91 L420.90,150.11 L421.18,149.31 L421.45,148.51 L421.73,147.71 L422.00,146.91 L422.28,146.11 L422.55,145.31 L422.81,144.51 L423.08,143.70 L423.34,142.90 L423.60,142.09 L423.86,141.29 L424.12,140.48 L424.38,139.68 L424.63,138.87 L424.88,138.06 L425.13,137.25 L425.38,136.44 L425.62,135.63 L425.87,134.82 L426.11,134.01 L426.35,133.19 L426.58,132.38 L426.81,131.56 L427.05,130.75 L427.27,129.93 L427.50,129.12 L427.73,128.30 L427.95,127.48" fill="none" stroke="#55ab55" stroke-width="1.85" stroke-linejoin="round" stroke-linecap="butt" /><path d="M251.95,216.07 L252.79,216.12 L253.64,216.16 L254.48,216.20 L255.32,216.23 L256.16,216.26 L257.00,216.28 L257.83,216.30 L258.66,216.32 L259.50,216.33 L260.33,216.34 L261.16,216.34 L261.98,216.34 L262.81,216.34 L263.64,216.34 L264.46,216.33 L265.28,216.32 L266.11,216.31 L266.93,216.30 L267.75,216.28 L268.57,216.27 L269.39,216.25 L270.21,216.23 L271.03,216.21 L271.85,216.19 L272.67,216.17 L273.49,216.15 L274.31,216.13 L275.13,216.11 L275.94,216.08 L276.76,216.06 L277.58,216.04 L278.40,216.02 L279.22,216.01 L280.04,215.99 L280.86,215.97 L281.68,215.96 L282.51,215.95 L283.33,215.94 L284.15,215.93 L284.98,215.92 L285.80,215.92 L286.63,215.92 L287.46,215.92 L288.29,215.93 L289.12,215.94 L289.95,215.95 L290.78,215.97 L291.62,215.99 L292.45,216.02 L293.29,216.05 L294.13,216.08 L294.97,216.11 L295.82,216.15 L296.66,216.19 L297.50,216.23 L298.35,216.28 L299.19,216.32 L300.03,216.36 L300.88,216.40 L301.72,216.44 L302.57,216.48 L303.41,216.51 L304.25,216.54 L305.09,216.57 L305.93,216.59 L306.76,216.61 L307.60,216.62 L308.43,216.62 L309.26,216.62 L310.09,216.61 L310.92,216.59 L311.74,216.57 L312.56,216.53 L313.38,216.49 L314.19,216.43 L315.00,216.37 L315.81,216.29 L316.61,216.20 L317.41,216.10 L318.21,215.99 L319.00,215.86 L319.78,215.72 L320.56,215.56 L321.34,215.39 L322.11,215.21 L322.88,215.01 L323.64,214.79 L324.40,214.56 L325.15,214.31 L325.90,214.05 L326.65,213.79 L327.41,213.53 L328.17,213.26 L328.93,213.00 L329.69,212.73 L330.46,212.46 L331.23,212.19 L332.00,211.92 L332.77,211.65 L333.55,211.37 L334.32,211.09 L335.10,210.81 L335.88,210.53 L336.66,210.25 L337.44,209.96 L338.22,209.67 L339.01,209.38 L339.79,209.09 L340.57,208.79 L341.35,208.49 L342.14,208.18 L342.92,207.88 L343.70,207.57 L344.48,207.25 L345.26,206.93 L346.04,206.61 L346.82,206.29 L347.59,205.96 L348.37,205.63 L349.14,205.29 L349.91,204.95 L350.68,204.60 L351.45,204.25 L352.21,203.90 L352.97,203.54 L353.73,203.17 L354.48,202.80 L355.23,202.43 L355.98,202.05 L356.73,201.67 L357.47,201.28 L358.20,200.88 L358.94,200.48 L359.66,200.07 L360.39,199.66 L361.10,199.24 L361.82,198.82 L362.53,198.39 L363.23,197.95 L363.93,197.51 L364.62,197.06 L365.31,196.60 L365.99,196.14 L366.66,195.67 L367.33,195.19 L367.99,194.71 L368.64,194.21 L369.29,193.72 L369.93,193.21 L370.57,192.70 L371.19,192.18 L371.81,191.65 L372.42,191.11 L373.02,190.57 L373.62,190.02 L374.21,189.46 L374.79,188.90 L375.37,188.33 L375.94,187.75 L376.50,187.17 L377.06,186.58 L377.61,185.98 L378.15,185.38 L378.69,184.77 L379.22,184.15 L379.74,183.53 L380.26,182.91 L380.77,182.27 L381.28,181.64 L381.78,180.99 L382.27,180.34 L382.76,179.69 L383.25,179.03 L383.73,178.37 L384.20,177.70 L384.67,177.03 L385.13,176.35 L385.59,175.67 L386.04,174.98 L386.49,174.29 L386.93,173.60 L387.37,172.90 L387.80,172.20 L388.23,171.49 L388.66,170.78 L389.08,170.07 L389.49,169.35 L389.91,168.63 L390.31,167.91 L390.72,167.18 L391.12,166.46 L391.51,165.72 L391.91,164.99 L392.30,164.25 L392.68,163.51 L393.06,162.77 L393.44,162.03 L393.82,161.28 L394.19,160.53 L394.56,159.78 L394.92,159.03 L395.28,158.28 L395.64,157.52 L396.00,156.77 L396.36,156.01 L396.71,155.25 L397.06,154.49 L397.40,153.73 L397.75,152.97 L398.09,152.21 L398.43,151.45 L398.77,150.68 L399.11,149.92 L399.44,149.16 L399.77,148.39 L400.11,147.63 L400.44,146.87 L400.76,146.10 L401.09,145.34 L401.41,144.58 L401.74,143.82 L402.06,143.05 L402.38,142.29 L402.70,141.54 L403.02,140.78 L403.34,140.02 L403.66,139.26 L403.98,138.51 L404.31,137.76 L404.63,137.00 L404.95,136.26 L405.28,135.51 L405.61,134.76 L405.95,134.02 L406.28,133.27 L406.62,132.53 L406.97,131.80 L407.32,131.06 L407.68,130.33 L408.04,129.60 L408.41,128.87 L408.78,128.15 L409.16,127.42 L409.55,126.70 L409.95,125.99 L410.36,125.28 L410.77,124.57 L411.20,123.86 L411.63,123.16 L412.07,122.46 L412.52,121.76 L412.97,121.06 L413.42,120.36 L413.88,119.67 L414.34,118.97 L414.80,118.28 L415.26,117.58 L415.72,116.88 L416.17,116.18 L416.62,115.48 L417.06,114.77 L417.50,114.06 L417.93,113.35 L418.36,112.64 L418.77,111.92 L419.17,111.19 L419.56,110.46 L419.94,109.72 L420.31,108.99 L420.68,108.24 L421.03,107.49 L421.37,106.74 L421.71,105.99 L422.04,105.23 L422.36,104.47 L422.67,103.70 L422.97,102.93 L423.27,102.16 L423.55,101.39 L423.83,100.61 L424.11,99.83 L424.37,99.05 L424.63,98.26 L424.89,97.48 L425.13,96.69 L425.37,95.90 L425.61,95.11 L425.84,94.31 L426.06,93.52 L426.28,92.72 L426.50,91.92 L426.71,91.13 L426.91,90.33 L427.11,89.53 L427.31,88.73 L427.50,87.93 L427.69,87.13 L427.88,86.32 L428.06,85.52" fill="none" stroke="#cf8c5a" stroke-width="1.85" stroke-linejoin="round" stroke-linecap="butt" /><path d="M251.90,216.05 L252.92,216.08 L253.94,216.10 L254.96,216.12 L255.98,216.14 L256.99,216.16 L258.01,216.17 L259.03,216.18 L260.04,216.18 L261.05,216.19 L262.07,216.19 L263.08,216.19 L264.09,216.18 L265.10,216.18 L266.11,216.17 L267.12,216.16 L268.12,216.15 L269.13,216.13 L270.14,216.11 L271.14,216.09 L272.15,216.07 L273.15,216.04 L274.15,216.01 L275.16,215.98 L276.16,215.95 L277.16,215.92 L278.16,215.88 L279.16,215.84 L280.16,215.80 L281.16,215.76 L282.16,215.72 L283.16,215.67 L284.16,215.62 L285.16,215.57 L286.15,215.52 L287.15,215.47 L288.15,215.41 L289.14,215.35 L290.14,215.29 L291.14,215.23 L292.13,215.17 L293.13,215.11 L294.12,215.04 L295.12,214.97 L296.11,214.90 L297.11,214.83 L298.10,214.76 L299.10,214.69 L300.09,214.61 L301.09,214.53 L302.08,214.46 L303.08,214.38 L304.07,214.30 L305.07,214.21 L306.06,214.13 L307.06,214.05 L308.05,213.96 L309.05,213.87 L310.04,213.78 L311.04,213.70 L312.04,213.60 L313.03,213.51 L314.03,213.42 L315.03,213.33 L316.02,213.23 L317.02,213.14 L318.02,213.04 L319.02,212.94 L320.02,212.84 L321.02,212.75 L322.02,212.65 L323.02,212.54 L324.02,212.44 L325.02,212.34 L326.02,212.24 L327.03,212.13 L328.03,212.03 L329.03,211.93 L330.04,211.82 L331.04,211.71 L332.05,211.61 L333.05,211.50 L334.06,211.39 L335.07,211.28 L336.07,211.17 L337.08,211.05 L338.09,210.94 L339.10,210.82 L340.10,210.70 L341.11,210.57 L342.11,210.45 L343.12,210.32 L344.12,210.18 L345.13,210.04 L346.13,209.90 L347.13,209.76 L348.14,209.61 L349.14,209.45 L350.13,209.29 L351.13,209.13 L352.13,208.96 L353.12,208.78 L354.12,208.60 L355.11,208.41 L356.10,208.22 L357.08,208.02 L358.07,207.81 L359.05,207.60 L360.03,207.37 L361.01,207.15 L361.99,206.91 L362.96,206.67 L363.93,206.41 L364.90,206.15 L365.86,205.89 L366.83,205.61 L367.79,205.32 L368.74,205.03 L369.70,204.72 L370.65,204.41 L371.59,204.08 L372.53,203.75 L373.47,203.40 L374.41,203.05 L375.34,202.68 L376.26,202.30 L377.18,201.91 L378.09,201.50 L379.00,201.08 L379.89,200.65 L380.77,200.19 L381.64,199.72 L382.50,199.23 L383.35,198.73 L384.18,198.20 L384.99,197.65 L385.79,197.08 L386.56,196.49 L387.32,195.87 L388.06,195.23 L388.79,194.57 L389.49,193.88 L390.17,193.17 L390.84,192.45 L391.49,191.71 L392.13,190.94 L392.75,190.17 L393.36,189.38 L393.95,188.58 L394.53,187.77 L395.11,186.95 L395.67,186.12 L396.22,185.29 L396.77,184.45 L397.30,183.60 L397.83,182.75 L398.35,181.90 L398.86,181.04 L399.37,180.18 L399.87,179.31 L400.35,178.44 L400.83,177.56 L401.31,176.68 L401.77,175.80 L402.23,174.91 L402.68,174.02 L403.13,173.13 L403.56,172.23 L403.99,171.33 L404.42,170.42 L404.83,169.51 L405.24,168.60 L405.64,167.68 L406.04,166.76 L406.43,165.84 L406.81,164.91 L407.18,163.99 L407.55,163.05 L407.91,162.12 L408.27,161.18 L408.62,160.24 L408.96,159.30 L409.30,158.35 L409.63,157.40 L409.96,156.45 L410.28,155.50 L410.60,154.54 L410.90,153.58 L411.21,152.62 L411.51,151.66 L411.80,150.69 L412.08,149.73 L412.37,148.76 L412.64,147.79 L412.91,146.81 L413.18,145.84 L413.44,144.86 L413.70,143.89 L413.95,142.91 L414.20,141.93 L414.44,140.95 L414.68,139.96 L414.91,138.98 L415.14,137.99 L415.37,137.01 L415.59,136.02 L415.80,135.03 L416.01,134.04 L416.22,133.05 L416.43,132.06 L416.63,131.06 L416.82,130.07 L417.02,129.08 L417.20,128.09 L417.39,127.09 L417.57,126.10 L417.75,125.10 L417.93,124.11 L418.10,123.11 L418.27,122.12 L418.43,121.12 L418.60,120.13 L418.76,119.13 L418.91,118.14 L419.07,117.15 L419.22,116.15 L419.37,115.16 L419.51,114.17 L419.66,113.17 L419.80,112.18 L419.94,111.19 L420.07,110.19 L420.21,109.20 L420.34,108.21 L420.47,107.22 L420.59,106.23 L420.72,105.24 L420.84,104.24 L420.96,103.25 L421.07,102.26 L421.19,101.27 L421.30,100.28 L421.41,99.29 L421.52,98.30 L421.62,97.31 L421.73,96.32 L421.83,95.32 L421.93,94.33 L422.03,93.34 L422.12,92.35 L422.21,91.36 L422.31,90.37 L422.40,89.37 L422.48,88.38 L422.57,87.39 L422.65,86.39 L422.74,85.40 L422.82,84.41 L422.90,83.41 L422.98,82.42 L423.05,81.43 L423.13,80.43 L423.20,79.44 L423.27,78.44 L423.34,77.44 L423.41,76.45 L423.48,75.45 L423.54,74.45 L423.61,73.46 L423.67,72.46 L423.73,71.46 L423.79,70.46 L423.85,69.46 L423.91,68.46 L423.96,67.46 L424.02,66.45 L424.07,65.45 L424.13,64.45 L424.18,63.44 L424.23,62.44 L424.28,61.43 L424.33,60.43 L424.38,59.42 L424.43,58.41 L424.47,57.41 L424.52,56.40 L424.56,55.39 L424.61,54.38 L424.65,53.36 L424.70,52.35 L424.74,51.34 L424.78,50.32 L424.82,49.31 L424.86,48.29 L424.90,47.27 L424.94,46.25 L424.98,45.23 L425.02,44.21 L425.06,43.19 L425.09,42.17" fill="none" stroke="#c5a55e" stroke-width="1.85" stroke-linejoin="round" stroke-linecap="butt" /><path d="M252.11,216.64 L252.98,216.56 L253.85,216.48 L254.71,216.41 L255.58,216.35 L256.45,216.29 L257.32,216.23 L258.18,216.18 L259.05,216.13 L259.92,216.08 L260.79,216.04 L261.66,216.00 L262.53,215.96 L263.41,215.93 L264.28,215.90 L265.15,215.88 L266.02,215.86 L266.89,215.84 L267.77,215.82 L268.64,215.81 L269.51,215.80 L270.39,215.79 L271.26,215.78 L272.14,215.78 L273.01,215.78 L273.89,215.78 L274.77,215.79 L275.64,215.80 L276.52,215.80 L277.40,215.82 L278.28,215.83 L279.16,215.84 L280.04,215.86 L280.92,215.88 L281.80,215.90 L282.68,215.92 L283.56,215.94 L284.44,215.97 L285.32,215.99 L286.20,216.02 L287.09,216.05 L287.97,216.08 L288.86,216.11 L289.74,216.14 L290.62,216.17 L291.51,216.20 L292.40,216.24 L293.28,216.27 L294.17,216.30 L295.06,216.34 L295.95,216.37 L296.83,216.41 L297.72,216.44 L298.61,216.48 L299.50,216.51 L300.39,216.55 L301.28,216.58 L302.17,216.62 L303.07,216.65 L303.96,216.68 L304.85,216.71 L305.74,216.73 L306.63,216.76 L307.52,216.78 L308.41,216.80 L309.30,216.82 L310.19,216.83 L311.08,216.84 L311.97,216.85 L312.86,216.85 L313.75,216.85 L314.63,216.84 L315.52,216.83 L316.40,216.82 L317.29,216.80 L318.17,216.77 L319.05,216.74 L319.93,216.70 L320.81,216.66 L321.68,216.61 L322.56,216.55 L323.43,216.49 L324.31,216.42 L325.18,216.34 L326.04,216.25 L326.91,216.16 L327.78,216.06 L328.64,215.95 L329.50,215.83 L330.36,215.70 L331.21,215.56 L332.07,215.42 L332.92,215.26 L333.76,215.09 L334.61,214.92 L335.45,214.73 L336.29,214.53 L337.13,214.32 L337.97,214.11 L338.80,213.87 L339.63,213.63 L340.45,213.38 L341.27,213.12 L342.09,212.84 L342.91,212.56 L343.72,212.27 L344.53,211.96 L345.34,211.65 L346.14,211.32 L346.94,210.99 L347.73,210.65 L348.53,210.29 L349.31,209.93 L350.10,209.56 L350.88,209.17 L351.65,208.78 L352.43,208.38 L353.19,207.97 L353.96,207.56 L354.72,207.13 L355.48,206.69 L356.23,206.25 L356.98,205.80 L357.72,205.34 L358.46,204.87 L359.19,204.39 L359.92,203.91 L360.65,203.41 L361.37,202.91 L362.09,202.40 L362.80,201.89 L363.51,201.37 L364.21,200.84 L364.91,200.30 L365.60,199.75 L366.29,199.20 L366.97,198.64 L367.64,198.08 L368.32,197.51 L368.98,196.93 L369.65,196.34 L370.30,195.75 L370.95,195.16 L371.60,194.55 L372.24,193.94 L372.87,193.33 L373.50,192.71 L374.13,192.08 L374.74,191.45 L375.36,190.81 L375.96,190.17 L376.56,189.52 L377.16,188.87 L377.74,188.21 L378.33,187.55 L378.90,186.89 L379.47,186.21 L380.04,185.54 L380.60,184.86 L381.15,184.17 L381.69,183.48 L382.23,182.79 L382.76,182.09 L383.29,181.39 L383.81,180.69 L384.33,179.98 L384.84,179.26 L385.34,178.55 L385.84,177.83 L386.33,177.10 L386.82,176.38 L387.30,175.64 L387.78,174.91 L388.25,174.17 L388.72,173.43 L389.18,172.69 L389.64,171.94 L390.09,171.19 L390.54,170.43 L390.98,169.68 L391.42,168.92 L391.86,168.15 L392.28,167.39 L392.71,166.62 L393.13,165.85 L393.55,165.07 L393.96,164.30 L394.37,163.52 L394.77,162.74 L395.17,161.95 L395.57,161.17 L395.96,160.38 L396.35,159.59 L396.73,158.80 L397.12,158.00 L397.50,157.21 L397.87,156.41 L398.24,155.61 L398.61,154.81 L398.98,154.00 L399.34,153.20 L399.70,152.39 L400.05,151.58 L400.41,150.77 L400.76,149.96 L401.11,149.15 L401.45,148.33 L401.79,147.52 L402.14,146.70 L402.47,145.88 L402.81,145.06 L403.14,144.24 L403.47,143.42 L403.80,142.60 L404.13,141.78 L404.46,140.96 L404.78,140.13 L405.10,139.31 L405.42,138.48 L405.74,137.66 L406.06,136.83 L406.37,136.01 L406.69,135.18 L407.00,134.36 L407.31,133.53 L407.63,132.70 L407.93,131.88 L408.24,131.05 L408.55,130.22 L408.86,129.40 L409.16,128.57 L409.47,127.75 L409.78,126.92 L410.08,126.09 L410.38,125.27 L410.68,124.44 L410.99,123.62 L411.29,122.79 L411.59,121.97 L411.88,121.14 L412.18,120.32 L412.48,119.49 L412.78,118.67 L413.07,117.84 L413.37,117.02 L413.66,116.19 L413.95,115.37 L414.24,114.54 L414.54,113.72 L414.83,112.89 L415.11,112.06 L415.40,111.24 L415.69,110.41 L415.98,109.58 L416.26,108.76 L416.55,107.93 L416.83,107.10 L417.11,106.27 L417.39,105.45 L417.67,104.62 L417.95,103.79 L418.23,102.96 L418.51,102.13 L418.79,101.30 L419.06,100.47 L419.34,99.64 L419.61,98.81 L419.89,97.97 L420.16,97.14 L420.43,96.31 L420.70,95.47 L420.97,94.64 L421.23,93.80 L421.50,92.97 L421.77,92.13 L422.03,91.29 L422.29,90.46 L422.56,89.62 L422.82,88.78 L423.08,87.94 L423.34,87.10 L423.60,86.26 L423.85,85.42 L424.11,84.57 L424.36,83.73 L424.62,82.88 L424.87,82.04 L425.12,81.19 L425.37,80.35 L425.62,79.50 L425.87,78.65 L426.12,77.80 L426.36,76.95 L426.61,76.10 L426.85,75.24 L427.09,74.39 L427.33,73.53 L427.57,72.68 L427.81,71.82 L428.05,70.96" fill="none" stroke="#dc5555" stroke-width="1.85" stroke-linejoin="round" stroke-linecap="butt" /><line x1="252" y1="216.2" x2="335" y2="216.2" stroke="#b82a18" stroke-width="1.85"/><line x1="336" y1="216.3" x2="375" y2="216.3" stroke="#2f5a2f" stroke-width="1.7"/></g><rect x="251.6" y="42.35" width="176.85" height="175.85" fill="none" stroke="#111" stroke-width="1.5"/><g stroke="#111" stroke-width="1"><line x1="330.3" y1="218.3" x2="330.3" y2="215.3"/><line x1="330.3" y1="42.3" x2="330.3" y2="45.3"/></g><g transform="translate(252,0) scale(0.98,1) translate(-252,0)"><text x="247.97" y="235.9" font-size="14.5" fill="#111"> </text><g fill="#111"><polygon points="251.61,235.90 251.61,227.14 249.36,228.75 249.36,227.55 251.72,225.92 252.90,225.92 252.90,235.90"/></g></g><g transform="translate(330.3,0) scale(0.98,1) translate(-330.3,0)"><text x="326.27" y="235.9" font-size="14.5" fill="#111">2</text></g><g transform="translate(428,0) scale(0.98,1) translate(-428,0)"><text x="413.89" y="235.9" font-size="14.5" fill="#111">3.25</text></g><g transform="translate(252,0) scale(0.98,1) translate(-252,0)"><text x="235.87" y="35.6" font-size="14.5" fill="#111"> 240</text><g fill="#111"><polygon points="239.52,35.60 239.52,26.84 237.27,28.45 237.27,27.25 239.62,25.62 240.80,25.62 240.80,35.60"/></g></g><g transform="translate(330.3,0) scale(0.98,1) translate(-330.3,0)"><text x="318.20" y="35.6" font-size="14.5" fill="#111">620</text></g><g transform="translate(428,0) scale(0.98,1) translate(-428,0)"><text x="415.90" y="35.6" font-size="14.5" fill="#111">382</text></g><g transform="translate(248.6,0) scale(0.98,1) translate(-248.6,0)"><text x="228.44" y="47.6" font-size="14.5" fill="#111">0.6</text></g><g transform="translate(248.6,0) scale(0.98,1) translate(-248.6,0)"><text x="228.44" y="134.6" font-size="14.5" fill="#111">0.3</text></g><g transform="translate(248.6,0) scale(0.98,1) translate(-248.6,0)"><text x="228.44" y="221.5" font-size="14.5" fill="#111">0.0</text></g><text x="340" y="251" font-size="15.5" text-anchor="middle" fill="#111" textLength="158.4" lengthAdjust="spacingAndGlyphs">Photon Energy, <tspan font-style="italic">E</tspan> (eV)</text><text x="271.00" y="20.6" font-size="15.8" fill="#111" textLength="89.3" lengthAdjust="spacingAndGlyphs">Wavelength,</text><path d="M366.60,10.90 C367.20,10.10 368.00,10.20 368.40,11.20 C369.00,13.00 369.60,16.00 370.30,18.30 C370.70,19.50 371.50,20.00 372.30,18.60 M368.80,13.8 L364.10,20.0" fill="none" stroke="#111" stroke-width="1.25" stroke-linecap="round" stroke-linejoin="round"/><text x="376.90" y="20.6" font-size="15.8" fill="#111" textLength="32.6" lengthAdjust="spacingAndGlyphs">(nm)</text><text transform="translate(227.2,128.8) rotate(-90)" font-size="16" text-anchor="middle" fill="#111" textLength="158.7" lengthAdjust="spacingAndGlyphs">Extinction coefficient, <tspan font-style="italic">k</tspan></text><rect x="269.3" y="59.8" width="88.5" height="88.2" fill="#fff"/><g clip-path="url(#cbi)"><polygon points="259,59.8 271,59.8 359,148 346.5,148" fill="#d3e9e9"/></g><rect x="269.3" y="59.8" width="88.5" height="88.2" fill="none" stroke="#333" stroke-width="1"/><g stroke="#333" stroke-width="0.9"><line x1="304.5" y1="148" x2="304.5" y2="145.5"/><line x1="339.7" y1="148" x2="339.7" y2="145.5"/><line x1="357.8" y1="103.9" x2="355.3" y2="103.9"/></g><polygon points="280.80,63.20 284.60,65.96 283.15,70.44 278.45,70.44 277.00,65.96" fill="#435252"/><polygon points="297.30,87.60 301.10,90.36 299.65,94.84 294.95,94.84 293.50,90.36" fill="#435252"/><polygon points="310.80,102.00 314.60,104.76 313.15,109.24 308.45,109.24 307.00,104.76" fill="#435252"/><polygon points="352.30,135.60 356.10,138.36 354.65,142.84 349.95,142.84 348.50,138.36" fill="#435252"/><polygon points="322.70,120.90 325.90,122.75 325.90,126.45 322.70,128.30 319.50,126.45 319.50,122.75" fill="#4caf50"/><g font-size="10.6" fill="#111"><text x="275.5" y="82.2">Si</text><text x="290.2" y="86">GaP</text><text x="309.2" y="101.7">SnS<tspan font-size="7.2" dy="2.8">2</tspan></text><text x="303.5" y="139.3">InGaS<tspan font-size="7.2" dy="2.8">3</tspan></text><text x="334.9" y="133">TiO<tspan font-size="7.2" dy="2.8">2</tspan></text></g><g transform="translate(268.8,0) scale(0.98,1) translate(-268.8,0)"><text x="265.85" y="161.2" font-size="10.6" fill="#111"> </text><g fill="#111"><polygon points="268.52,161.20 268.52,154.80 266.87,155.97 266.87,155.09 268.60,153.91 269.45,153.91 269.45,161.20"/></g></g><g transform="translate(304.3,0) scale(0.98,1) translate(-304.3,0)"><text x="301.35" y="161.2" font-size="10.6" fill="#111">2</text></g><g transform="translate(339.5,0) scale(0.98,1) translate(-339.5,0)"><text x="336.55" y="161.2" font-size="10.6" fill="#111">3</text></g><g transform="translate(358.6,0) scale(0.98,1) translate(-358.6,0)"><text x="358.60" y="63.6" font-size="10.6" fill="#111">3.7</text></g><g transform="translate(358.6,0) scale(0.98,1) translate(-358.6,0)"><text x="358.60" y="107.6" font-size="10.6" fill="#111">3. </text><g fill="#111"><polygon points="370.11,107.60 370.11,101.20 368.46,102.37 368.46,101.49 370.18,100.31 371.04,100.31 371.04,107.60"/></g></g><g transform="translate(358.6,0) scale(0.98,1) translate(-358.6,0)"><text x="358.60" y="152" font-size="10.6" fill="#111">2.5</text></g><text x="251.7" y="174.6" font-size="12" fill="#111" textLength="137.9" lengthAdjust="spacingAndGlyphs">Optical bandgap, <tspan font-style="italic">E</tspan><tspan font-size="8.6" dy="2.5">g</tspan><tspan dy="-2.5"> (eV)</tspan></text><text transform="translate(376.8,104.8) rotate(90)" font-size="12" text-anchor="middle" fill="#111" textLength="104" lengthAdjust="spacingAndGlyphs">Refractive index, <tspan font-style="italic">n</tspan></text><path d="M528.13,67.70 L528.18,68.42 L528.23,69.14 L528.28,69.86 L528.33,70.58 L528.38,71.29 L528.43,72.01 L528.49,72.72 L528.54,73.43 L528.59,74.15 L528.65,74.86 L528.70,75.57 L528.76,76.28 L528.82,76.99 L528.87,77.70 L528.93,78.40 L528.99,79.11 L529.04,79.82 L529.10,80.52 L529.16,81.22 L529.22,81.93 L529.28,82.63 L529.34,83.33 L529.40,84.03 L529.46,84.73 L529.52,85.43 L529.59,86.13 L529.65,86.83 L529.71,87.53 L529.77,88.23 L529.84,88.93 L529.90,89.63 L529.97,90.32 L530.03,91.02 L530.10,91.71 L530.16,92.41 L530.23,93.10 L530.30,93.80 L530.36,94.49 L530.43,95.19 L530.50,95.88 L530.57,96.58 L530.64,97.27 L530.70,97.96 L530.77,98.66 L530.84,99.35 L530.91,100.04 L530.98,100.74 L531.05,101.43 L531.13,102.12 L531.20,102.81 L531.27,103.51 L531.34,104.20 L531.41,104.89 L531.49,105.59 L531.56,106.28 L531.63,106.97 L531.71,107.67 L531.78,108.36 L531.85,109.05 L531.93,109.75 L532.00,110.44 L532.08,111.13 L532.15,111.83 L532.23,112.52 L532.30,113.22 L532.38,113.91 L532.46,114.61 L532.53,115.31 L532.61,116.00 L532.69,116.70 L532.76,117.40 L532.84,118.10 L532.92,118.79 L533.00,119.49 L533.07,120.19 L533.15,120.89 L533.23,121.59 L533.31,122.30 L533.39,123.00 L533.47,123.70 L533.55,124.40 L533.63,125.11 L533.71,125.81 L533.79,126.52 L533.87,127.22 L533.95,127.93 L534.03,128.64 L534.11,129.34 L534.20,130.05 L534.28,130.76 L534.37,131.47 L534.46,132.18 L534.55,132.88 L534.64,133.59 L534.73,134.30 L534.83,135.01 L534.93,135.72 L535.03,136.43 L535.13,137.13 L535.23,137.84 L535.34,138.55 L535.45,139.25 L535.57,139.96 L535.68,140.67 L535.81,141.37 L535.93,142.07 L536.06,142.78 L536.19,143.48 L536.33,144.18 L536.47,144.88 L536.61,145.58 L536.76,146.28 L536.91,146.98 L537.07,147.68 L537.23,148.37 L537.40,149.07 L537.57,149.76 L537.75,150.45 L537.93,151.14 L538.12,151.83 L538.32,152.51 L538.52,153.20 L538.72,153.88 L538.93,154.56 L539.15,155.24 L539.38,155.92 L539.61,156.59 L539.85,157.26 L540.09,157.93 L540.34,158.59 L540.60,159.25 L540.86,159.91 L541.14,160.56 L541.42,161.20 L541.70,161.84 L542.00,162.48 L542.30,163.11 L542.61,163.74 L542.93,164.35 L543.25,164.97 L543.59,165.57 L543.93,166.17 L544.28,166.76 L544.64,167.35 L545.01,167.93 L545.39,168.50 L545.77,169.06 L546.17,169.61 L546.57,170.16 L546.98,170.69 L547.41,171.22 L547.84,171.74 L548.28,172.24 L548.73,172.74 L549.20,173.23 L549.67,173.71 L550.15,174.17 L550.64,174.63 L551.14,175.08 L551.65,175.51 L552.17,175.94 L552.69,176.36 L553.23,176.76 L553.77,177.16 L554.33,177.55 L554.89,177.93 L555.45,178.30 L556.03,178.66 L556.61,179.01 L557.20,179.35 L557.80,179.68 L558.40,180.00 L559.01,180.32 L559.62,180.62 L560.24,180.92 L560.87,181.21 L561.50,181.48 L562.14,181.76 L562.79,182.02 L563.44,182.27 L564.09,182.52 L564.75,182.76 L565.41,182.98 L566.08,183.21 L566.75,183.42 L567.42,183.63 L568.10,183.82 L568.78,184.01 L569.46,184.20 L570.15,184.37 L570.84,184.54 L571.53,184.70 L572.23,184.85 L572.92,185.00 L573.62,185.14 L574.32,185.27 L575.02,185.40 L575.73,185.51 L576.43,185.63 L577.14,185.73 L577.84,185.83 L578.55,185.92 L579.26,186.01 L579.97,186.09 L580.68,186.17 L581.39,186.24 L582.11,186.31 L582.82,186.37 L583.54,186.43 L584.25,186.48 L584.97,186.53 L585.68,186.57 L586.40,186.61 L587.11,186.65 L587.83,186.68 L588.55,186.71 L589.26,186.74 L589.98,186.76 L590.70,186.78 L591.41,186.80 L592.13,186.82 L592.85,186.83 L593.56,186.84 L594.28,186.85 L594.99,186.86 L595.71,186.86 L596.42,186.87 L597.13,186.87 L597.85,186.88 L598.56,186.88 L599.27,186.88 L599.98,186.88 L600.69,186.89 L601.39,186.89 L602.10,186.89 L602.81,186.89 L603.51,186.89 L604.22,186.89 L604.92,186.89 L605.63,186.89 L606.33,186.88 L607.03,186.88 L607.73,186.88 L608.43,186.88 L609.14,186.87 L609.84,186.87 L610.53,186.87 L611.23,186.86 L611.93,186.86 L612.63,186.85 L613.33,186.85 L614.03,186.84 L614.72,186.83 L615.42,186.83 L616.12,186.82 L616.82,186.81 L617.51,186.81 L618.21,186.80 L618.91,186.79 L619.60,186.78 L620.30,186.77 L621.00,186.76 L621.69,186.75 L622.39,186.74 L623.09,186.73 L623.78,186.72 L624.48,186.71 L625.18,186.70 L625.87,186.69 L626.57,186.68 L627.27,186.66 L627.97,186.65 L628.67,186.64 L629.36,186.62 L630.06,186.61 L630.76,186.59 L631.46,186.58 L632.16,186.57 L632.87,186.55 L633.57,186.53 L634.27,186.52 L634.97,186.50 L635.68,186.49 L636.38,186.47 L637.09,186.45 L637.79,186.43 L638.50,186.42 L639.21,186.40 L639.91,186.38 L640.62,186.36 L641.33,186.34 L642.04,186.32 L642.76,186.30 L643.47,186.28 L644.18,186.26 L644.90,186.24 L645.61,186.22 L646.33,186.20 L647.05,186.17" fill="none" stroke="#555555" stroke-width="1.9" stroke-linejoin="round" stroke-linecap="butt" /><path d="M495.44,143.47 L495.52,143.81 L495.60,144.15 L495.68,144.49 L495.75,144.83 L495.83,145.17 L495.90,145.51 L495.97,145.85 L496.04,146.19 L496.10,146.54 L496.17,146.88 L496.23,147.22 L496.29,147.57 L496.35,147.91 L496.41,148.25 L496.47,148.60 L496.52,148.94 L496.58,149.29 L496.63,149.63 L496.68,149.98 L496.74,150.33 L496.79,150.67 L496.83,151.02 L496.88,151.37 L496.93,151.71 L496.98,152.06 L497.02,152.41 L497.06,152.76 L497.11,153.11 L497.15,153.46 L497.19,153.80 L497.23,154.15 L497.28,154.50 L497.32,154.85 L497.36,155.20 L497.39,155.55 L497.43,155.90 L497.47,156.25 L497.51,156.61 L497.55,156.96 L497.58,157.31 L497.62,157.66 L497.66,158.01 L497.69,158.36 L497.73,158.71 L497.77,159.07 L497.80,159.42 L497.84,159.77 L497.88,160.12 L497.91,160.47 L497.95,160.83 L497.99,161.18 L498.02,161.53 L498.06,161.88 L498.10,162.24 L498.14,162.59 L498.17,162.94 L498.21,163.30 L498.25,163.65 L498.29,164.00 L498.33,164.36 L498.37,164.71 L498.42,165.06 L498.46,165.42 L498.50,165.77 L498.54,166.12 L498.59,166.48 L498.63,166.83 L498.68,167.18 L498.73,167.53 L498.78,167.89 L498.83,168.24 L498.88,168.59 L498.93,168.95 L498.98,169.30 L499.04,169.65 L499.09,170.01 L499.15,170.36 L499.21,170.71 L499.26,171.06 L499.33,171.42 L499.39,171.77 L499.45,172.12 L499.52,172.47 L499.58,172.82 L499.65,173.18 L499.72,173.53 L499.79,173.88 L499.87,174.23 L499.94,174.58 L500.02,174.93 L500.10,175.28 L500.18,175.63 L500.26,175.98 L500.35,176.33 L500.44,176.68 L500.53,177.03 L500.62,177.38 L500.71,177.73 L500.81,178.07 L500.91,178.41 L501.01,178.76 L501.12,179.10 L501.22,179.44 L501.33,179.78 L501.45,180.12 L501.56,180.45 L501.68,180.79 L501.80,181.12 L501.93,181.45 L502.05,181.78 L502.19,182.11 L502.32,182.43 L502.46,182.75 L502.60,183.07 L502.74,183.39 L502.89,183.71 L503.04,184.02 L503.19,184.33 L503.35,184.64 L503.51,184.94 L503.68,185.24 L503.85,185.54 L504.02,185.83 L504.20,186.12 L504.38,186.41 L504.57,186.70 L504.76,186.98 L504.95,187.26 L505.15,187.53 L505.35,187.80 L505.56,188.07 L505.77,188.33 L505.99,188.59 L506.21,188.84 L506.43,189.09 L506.66,189.34 L506.90,189.58 L507.14,189.82 L507.38,190.05 L507.63,190.28 L507.88,190.50 L508.14,190.72 L508.40,190.94 L508.66,191.15 L508.93,191.36 L509.20,191.56 L509.48,191.76 L509.76,191.96 L510.04,192.15 L510.32,192.34 L510.61,192.52 L510.90,192.70 L511.20,192.88 L511.49,193.05 L511.79,193.22 L512.09,193.39 L512.40,193.55 L512.71,193.71 L513.01,193.86 L513.32,194.01 L513.64,194.16 L513.95,194.30 L514.27,194.44 L514.58,194.58 L514.90,194.71 L515.22,194.85 L515.54,194.97 L515.86,195.10 L516.19,195.22 L516.51,195.34 L516.84,195.45 L517.17,195.56 L517.49,195.67 L517.82,195.78 L518.15,195.88 L518.48,195.98 L518.82,196.07 L519.15,196.17 L519.48,196.26 L519.82,196.35 L520.15,196.43 L520.49,196.51 L520.83,196.59 L521.17,196.67 L521.51,196.75 L521.85,196.82 L522.19,196.89 L522.53,196.95 L522.88,197.02 L523.22,197.08 L523.56,197.14 L523.91,197.20 L524.26,197.25 L524.60,197.31 L524.95,197.36 L525.30,197.41 L525.65,197.45 L526.00,197.50 L526.35,197.54 L526.70,197.58 L527.05,197.62 L527.40,197.65 L527.76,197.69 L528.11,197.72 L528.46,197.75 L528.82,197.78 L529.17,197.81 L529.53,197.83 L529.88,197.85 L530.24,197.88 L530.60,197.90 L530.95,197.92 L531.31,197.93 L531.67,197.95 L532.03,197.96 L532.39,197.97 L532.74,197.99 L533.10,198.00 L533.46,198.00 L533.82,198.01 L534.18,198.02 L534.54,198.02 L534.90,198.03 L535.26,198.03 L535.62,198.03 L535.99,198.03 L536.35,198.03 L536.71,198.03 L537.07,198.03 L537.43,198.02 L537.79,198.02 L538.15,198.01 L538.52,198.01 L538.88,198.00 L539.24,197.99 L539.60,197.98 L539.96,197.98 L540.32,197.97 L540.69,197.96 L541.05,197.95 L541.41,197.94 L541.77,197.92 L542.13,197.91 L542.49,197.90 L542.85,197.89 L543.21,197.87 L543.57,197.86 L543.93,197.85 L544.29,197.83 L544.65,197.82 L545.01,197.81 L545.37,197.79 L545.73,197.78 L546.09,197.77 L546.45,197.75 L546.80,197.74 L547.16,197.72 L547.52,197.71 L547.88,197.70 L548.23,197.68 L548.59,197.67 L548.94,197.66 L549.30,197.65 L549.65,197.63 L550.00,197.62 L550.36,197.61 L550.71,197.60 L551.06,197.59 L551.41,197.58 L551.76,197.57 L552.11,197.57 L552.46,197.56 L552.81,197.55 L553.16,197.55 L553.51,197.54 L553.85,197.54 L554.20,197.53 L554.55,197.53 L554.89,197.53 L555.23,197.53 L555.58,197.53 L555.92,197.53 L556.26,197.53 L556.60,197.54 L556.94,197.54 L557.28,197.55 L557.62,197.55 L557.95,197.56 L558.29,197.57 L558.62,197.58 L558.96,197.60 L559.29,197.61 L559.62,197.63 L559.95,197.64 L560.28,197.66 L560.61,197.68 L560.94,197.70 L561.26,197.73 L561.59,197.75" fill="none" stroke="#55ab55" stroke-width="1.9" stroke-linejoin="round" stroke-linecap="butt" /><rect x="472.6" y="42.35" width="176.55" height="175.95" fill="none" stroke="#111" stroke-width="1.4"/><g stroke="#111" stroke-width="1"><line x1="560.7" y1="218.3" x2="560.7" y2="215.3"/><line x1="649.5" y1="130.2" x2="646.5" y2="130.2"/></g><g transform="translate(472.3,0) scale(0.98,1) translate(-472.3,0)"><text x="464.24" y="235.9" font-size="14.5" fill="#111"> 0</text><g fill="#111"><polygon points="467.88,235.90 467.88,227.14 465.63,228.75 465.63,227.55 467.99,225.92 469.16,225.92 469.16,235.90"/></g></g><g transform="translate(560.7,0) scale(0.98,1) translate(-560.7,0)"><text x="552.64" y="235.9" font-size="14.5" fill="#111">40</text></g><g transform="translate(648.3,0) scale(0.98,1) translate(-648.3,0)"><text x="640.24" y="235.9" font-size="14.5" fill="#111">70</text></g><g transform="translate(650.1,0) scale(0.98,1) translate(-650.1,0)"><text x="650.10" y="47" font-size="14.5" fill="#111">0.5</text></g><g transform="translate(650.2,0) scale(0.98,1) translate(-650.2,0)"><text x="650.20" y="135" font-size="14.5" fill="#111">0.3</text></g><g transform="translate(650.3,0) scale(0.98,1) translate(-650.3,0)"><text x="650.30" y="223" font-size="14.5" fill="#111">0.0</text></g><text x="561" y="252.7" font-size="16.2" text-anchor="middle" fill="#111" textLength="142.1" lengthAdjust="spacingAndGlyphs">Core thickness (nm)</text><text transform="translate(673.3,130.2) rotate(90)" font-size="16" text-anchor="middle" fill="#111" textLength="122.4" lengthAdjust="spacingAndGlyphs">Mode length (μm)</text><text x="477.0" y="57.6" font-size="15" font-family="Liberation Serif" fill="#111">λ</text><g stroke="#111" stroke-width="1.1"><line x1="489.1" y1="52.3" x2="497.3" y2="52.3"/><line x1="489.1" y1="55" x2="497.3" y2="55"/></g><text x="501.2" y="57.7" font-size="14" fill="#111">500 nm</text><line x1="586.2" y1="52.7" x2="609.4" y2="52.7" stroke="#55ab55" stroke-width="1.8"/><line x1="586.2" y1="68" x2="609.4" y2="68" stroke="#555" stroke-width="1.8"/><text x="611.7" y="56.2" font-size="10.6" fill="#111">InGaS<tspan font-size="7.2" dy="2.8">3</tspan></text><text x="611.7" y="71.6" font-size="10.6" fill="#111">TiO<tspan font-size="7.2" dy="2.8">2</tspan></text><rect x="595.9" y="80" width="42" height="13" fill="#d6ebeb"/><rect x="595.9" y="93" width="42" height="13" fill="#d8a582"/><rect x="595.9" y="106" width="42" height="13.5" fill="#e17a7d"/><g font-size="10.6" fill="#111" text-anchor="middle"><text x="616.6" y="90.7">Air</text><text x="616.4" y="103.8">Core</text><text x="616.6" y="117">Quartz</text></g></svg>
</body></html>
